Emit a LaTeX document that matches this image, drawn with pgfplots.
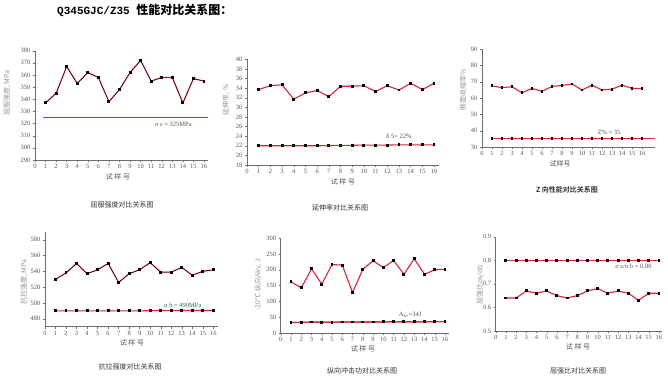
\documentclass[border=0pt]{standalone}
\usepackage{fontspec}
\setmainfont{Liberation Serif}
\newfontfamily\cjk{Noto Sans CJK SC}
\newfontfamily\cjkb{Noto Sans CJK SC Bold}
\newfontfamily\monob{Liberation Mono}
\usepackage{pgfplots}
\pgfplotsset{compat=1.18}
\definecolor{lred}{RGB}{215,35,60}
\definecolor{axgray}{RGB}{110,110,110}
\definecolor{tickgray}{RGB}{85,85,85}
\definecolor{labgray}{RGB}{150,150,150}
\definecolor{capgray}{RGB}{50,50,50}
\tikzset{ann/.style={font=\fontsize{6.5}{7}\selectfont, text=tickgray}}
\pgfplotsset{
  panel/.style={scale only axis, anchor=south west,
    axis x line*=bottom, axis y line*=left,
    axis line style={draw=axgray,-, line width=0.5pt},
    tick align=outside, xtick={0,...,16}, xmin=0,
    major tick length=2pt, tick style={axgray, line width=0.4pt},
    ticklabel style={font=\fontsize{6.5}{7}\selectfont, text=tickgray},
    /pgf/number format/assume math mode=true,
    enlargelimits=false, clip=false,
    xticklabel style={yshift=1pt}, yticklabel style={xshift=1pt}},
  mainser/.style={draw=lred, line width=1.1pt, mark=square*, mark size=0.9pt, mark options={fill=black, draw=black}},
  limline/.style={color=lred, line width=1.1pt, mark=none},
  limmark/.style={draw=lred, line width=1.1pt, mark=square*, mark size=0.9pt, mark options={fill=black, draw=black}},
}
\begin{document}
\begin{tikzpicture}
\path[use as bounding box] (0pt,0pt) rectangle (668pt,-379pt);
% title
\node[anchor=west, inner sep=0pt] at (57pt,-10pt) {\monob\bfseries\fontsize{11}{12}\selectfont Q345GJC/Z35\ \cjkb\fontsize{12}{13}\selectfont 性能对比关系图：};

% Panel 1
\begin{axis}[panel, at={(35pt,-160pt)}, width=173.2pt, height=109.3pt,
  xmax=16.4, ymin=290, ymax=380, ytick={290,300,...,380}]
\addplot[mainser] coordinates {(1,337)(2,345)(3,367)(4,353)(5,362)(6,358)(7,338)(8,348)(9,362)(10,372)(11,355)(12,358)(13,358)(14,337)(15,357)(16,355)};
\addplot[black, line width=0.35pt] coordinates {(1,337)(2,345)(3,367)(4,353)(5,362)(6,358)(7,338)(8,348)(9,362)(10,372)(11,355)(12,358)(13,358)(14,337)(15,357)(16,355)};
\addplot[limmark, mark=none] coordinates {(0.8,325)(4,325)(8,325)(12,325)(16.4,325)};
\node[ann] at (axis cs:13.1,319.6) {σ s = 325MPa};
\end{axis}
\node[rotate=90, text=labgray, font=\cjk\fontsize{7}{8}\selectfont] at (7pt,-93pt) {屈服强度, MPa};
\node[text=tickgray, font=\cjk\fontsize{7}{8}\selectfont] at (118pt,-177pt) {试 样 号};
\node[text=capgray, font=\cjk\fontsize{7}{8}\selectfont] at (122pt,-205pt) {屈服强度对比关系图};

% Panel 2
\begin{axis}[panel, at={(247pt,-165pt)}, width=191.7pt, height=105.7pt,
  xmax=16.4, ymin=18, ymax=40, ytick={18,20,...,40}]
\addplot[mainser] coordinates {(1,33.7)(2,34.5)(3,34.7)(4,31.7)(5,33.0)(6,33.5)(7,32.2)(8,34.4)(9,34.4)(10,34.5)(11,33.3)(12,34.5)(13,33.6)(14,35.0)(15,33.7)(16,35.0)};
\addplot[limmark] coordinates {(1,22.0)(2,22.0)(3,22.0)(4,22.0)(5,22.0)(6,22.0)(7,22.05)(8,22.1)(9,22.1)(10,22.15)(11,22.15)(12,22.15)(13,22.2)(14,22.2)(15,22.2)(16,22.2)};
\node[ann] at (axis cs:13.0,24.0) {δ 5= 22\%};
\end{axis}
\begin{scope}
\clip (222pt,0pt) rectangle (232pt,-379pt);
\node[rotate=90, text=labgray, font=\cjk\fontsize{7}{8}\selectfont] at (226pt,-100pt) {延伸率, \%};
\end{scope}
\node[text=tickgray, font=\cjk\fontsize{7}{8}\selectfont] at (343pt,-182pt) {试 样 号};
\node[text=capgray, font=\cjk\fontsize{7}{8}\selectfont] at (340pt,-208pt) {延伸率对比关系图};

% Panel 3
\begin{axis}[panel, at={(482pt,-147pt)}, width=173pt, height=97.7pt,
  xmax=17.3, ymin=30, ymax=90, ytick={30,40,...,90}]
\addplot[mainser] coordinates {(1,67.5)(2,66.5)(3,67)(4,63.3)(5,66)(6,64.2)(7,67.2)(8,67.8)(9,68.7)(10,65)(11,68)(12,65)(13,65.5)(14,68)(15,66)(16,66)};
\addplot[limline] coordinates {(1,35)(17.3,35)};
\addplot[limmark] coordinates {(1,35)(2,35)(3,35)(4,35)(5,35)(6,35)(7,35)(8,35)(9,35)(10,35)(11,35)(12,35)(13,35)(14,35)(15,35)(16,35)};
\node[ann] at (axis cs:12.7,38.8) {Z\% = 35};
\end{axis}
\node[rotate=90, text=labgray, font=\cjk\fontsize{7}{8}\selectfont] at (463pt,-90pt) {断面收缩率\%};
\node[text=tickgray, font=\cjk\fontsize{7}{8}\selectfont] at (560pt,-164pt) {试样号};
\node[text=capgray, font=\cjkb\fontsize{7}{8}\selectfont] at (567pt,-190pt) {Z 向性能对比关系图};

% Panel 4
\begin{axis}[panel, at={(45pt,-326.7pt)}, width=172.5pt, height=94.9pt,
  xmax=16.4, ymin=470, ymax=590, ytick={480,500,...,580}]
\addplot[mainser] coordinates {(1,530)(2,538)(3,550)(4,537)(5,542)(6,550)(7,526)(8,537)(9,542)(10,551)(11,539)(12,539)(13,545)(14,535)(15,540)(16,542)};
\addplot[black, line width=0.35pt] coordinates {(1,530)(2,538)(3,550)(4,537)(5,542)(6,550)(7,526)(8,537)(9,542)(10,551)(11,539)(12,539)(13,545)(14,535)(15,540)(16,542)};
\addplot[limmark] coordinates {(1,490)(2,490)(3,490)(4,490)(5,490)(6,490)(7,490)(8,490)(9,490)(10,490.3)(11,490.3)(12,490.3)(13,490.5)(14,490.5)(15,490.5)(16,490.5)};
\node[ann] at (axis cs:13.1,497.4) {σ b = 490MPa};
\end{axis}
\node[rotate=90, text=labgray, font=\cjk\fontsize{7}{8}\selectfont] at (24pt,-282pt) {抗拉强度, MPa};
\node[text=tickgray, font=\cjk\fontsize{7}{8}\selectfont] at (132pt,-343pt) {试 样 号};
\node[text=capgray, font=\cjk\fontsize{7}{8}\selectfont] at (130pt,-367pt) {抗拉强度对比关系图};

% Panel 5
\begin{axis}[panel, at={(280.7pt,-333pt)}, width=168.4pt, height=94.7pt,
  xmax=16.4, ymin=0, ymax=300, ytick={0,50,...,300}]
\addplot[mainser] coordinates {(1,162)(2,143)(3,203)(4,155)(5,217)(6,215)(7,128)(8,202)(9,229)(10,207)(11,230)(12,186)(13,235)(14,186)(15,200)(16,202)};
\addplot[limline] coordinates {(0.9,33.5)(16,36)};
\addplot[limmark] coordinates {(1,33.5)(2,34)(3,35)(4,34.5)(5,34.5)(6,35)(7,35)(8,35)(9,35)(10,35.5)(11,35.5)(12,35.5)(13,35.5)(14,36)(15,36)(16,36)};
\node[ann] at (axis cs:12.6,58) {A\textsubscript{kv}=34J};
\end{axis}
\node[rotate=90, text=labgray, font=\cjk\fontsize{7}{8}\selectfont] at (258pt,-285pt) {-20℃ 纵向Akv, J};
\node[text=tickgray, font=\cjk\fontsize{7}{8}\selectfont] at (363pt,-349pt) {试 样 号};
\node[text=capgray, font=\cjk\fontsize{7}{8}\selectfont] at (362pt,-371pt) {纵向冲击功对比关系图};

% Panel 6
\begin{axis}[panel, at={(495.7pt,-331pt)}, width=166.3pt, height=94.3pt,
  xmax=16.3, ymin=0.5, ymax=0.9, ytick={0.5,0.6,...,0.9},
  yticklabel style={/pgf/number format/fixed, /pgf/number format/precision=1}]
\addplot[mainser] coordinates {(1,0.64)(2,0.64)(3,0.67)(4,0.66)(5,0.67)(6,0.65)(7,0.64)(8,0.65)(9,0.67)(10,0.68)(11,0.66)(12,0.67)(13,0.66)(14,0.63)(15,0.66)(16,0.66)};
\addplot[limmark] coordinates {(1,0.8)(2,0.8)(3,0.8)(4,0.8)(5,0.8)(6,0.8)(7,0.8)(8,0.8)(9,0.8)(10,0.8)(11,0.8)(12,0.8)(13,0.8)(14,0.8)(15,0.8)(16,0.8)};
\node[ann] at (axis cs:13.5,0.773) {σ s/σ b = 0.80};
\end{axis}
\node[rotate=90, text=labgray, font=\cjk\fontsize{7}{8}\selectfont] at (480pt,-285pt) {屈强比σs/σb};
\node[text=tickgray, font=\cjk\fontsize{7}{8}\selectfont] at (578pt,-347pt) {试 样 号};
\node[text=capgray, font=\cjk\fontsize{7}{8}\selectfont] at (578pt,-371pt) {屈强比对比关系图};
\end{tikzpicture}
\end{document}
